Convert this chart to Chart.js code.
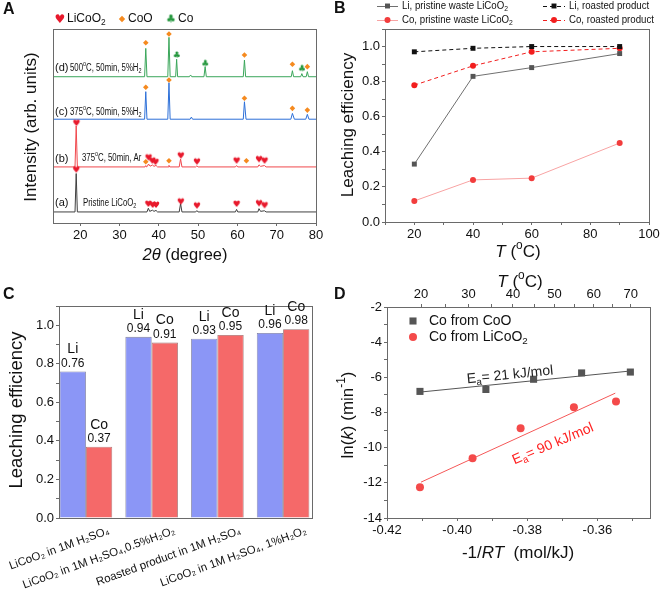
<!DOCTYPE html>
<html>
<head>
<meta charset="utf-8">
<title>LiCoO2 roasting and leaching</title>
<script src="https://cdn.jsdelivr.net/npm/chart.js@4.4.1/dist/chart.umd.min.js"></script>
<style>
  html, body { margin: 0; padding: 0; background: #fff; }
  body { position: relative; width: 661px; height: 594px; overflow: hidden; }
  canvas { position: absolute; }
</style>
</head>
<body>
<canvas id="chartA" width="330" height="280" style="left:0;top:0;width:330px;height:280px"></canvas>
<canvas id="chartB" width="331" height="270" style="left:330px;top:0;width:331px;height:270px"></canvas>
<canvas id="chartC" width="330" height="314" style="left:0;top:280px;width:330px;height:314px"></canvas>
<canvas id="chartD" width="331" height="324" style="left:330px;top:270px;width:331px;height:324px"></canvas>
<script>
// ---- A: XRD patterns, [2theta, intensity], patterns stacked on an arbitrary 0-100 scale
const xrdPristine = [[13,5.7],[18.7,5.7],[19.0,25.5],[19.3,5.7],[37.0,5.7],[37.35,7.6],[37.7,6.0],[38.4,6.6],[38.8,6.0],[39.3,6.5],[39.7,5.7],[45.2,5.7],[45.55,10.0],[45.9,5.7],[49.4,5.7],[49.7,6.4],[50.0,5.7],[59.5,5.7],[59.8,7.0],[60.1,5.7],[65.2,5.7],[65.5,7.4],[65.9,6.0],[66.9,6.3],[67.3,5.7],[80,5.7]];
const xrdAr375 = [[13,28.9],[18.7,28.9],[19.0,50.0],[19.3,28.9],[36.5,28.9],[36.7,29.6],[36.9,28.9],[37.1,29.2],[37.4,30.4],[37.8,29.3],[38.4,29.9],[38.8,29.2],[39.3,29.7],[39.7,28.9],[42.4,28.9],[42.6,29.7],[42.8,28.9],[45.2,28.9],[45.55,33.0],[45.9,28.9],[49.4,28.9],[49.7,29.5],[50.0,28.9],[59.5,28.9],[59.8,29.6],[60.1,28.9],[65.2,28.9],[65.5,30.0],[65.9,29.2],[66.9,29.6],[67.3,28.9],[80,28.9]];
const xrdH2375 = [[13,53.5],[36.4,53.5],[36.7,67.7],[37.0,53.5],[42.3,53.5],[42.6,72.3],[42.9,53.5],[48.0,53.5],[48.3,54.6],[48.6,53.5],[61.5,53.5],[61.8,62.5],[62.2,53.5],[73.6,53.5],[74.0,56.5],[74.5,53.5],[77.4,53.5],[77.8,56.0],[78.2,53.5],[80,53.5]];
const xrdH2500 = [[13,75.4],[36.4,75.4],[36.7,90.0],[37.0,75.4],[42.3,75.4],[42.6,95.7],[42.9,75.4],[44.3,75.4],[44.55,84.4],[44.8,75.4],[47.8,75.4],[48.1,76.3],[48.4,75.4],[51.5,75.4],[51.8,80.6],[52.1,75.4],[61.5,75.4],[61.8,84.0],[62.1,75.4],[73.7,75.4],[74.0,78.5],[74.3,75.4],[76.1,75.4],[76.4,77.0],[76.7,75.4],[77.5,75.4],[77.8,78.0],[78.1,75.4],[80,75.4]];
const peakLiCoO2 = [[19.0,27.5],[37.35,9.8],[38.45,9.3],[39.3,9.3],[45.6,11.0],[49.7,8.9],[59.8,9.8],[65.5,10.1],[66.9,9.1],
                    [19.05,51.5],[37.4,33.7],[38.35,32.1],[39.15,31.4],[45.6,34.7],[49.7,31.6],[59.8,32.1],[65.5,32.8],[66.9,32.1]];
const peakCoO = [[36.7,31.6],[42.6,32.1],[62.3,32.1],
                 [36.7,70.0],[42.6,73.7],[61.8,64.3],[74.0,59.1],[77.8,58.2],
                 [36.7,92.9],[42.6,97.4],[61.8,86.6],[74.0,81.8],[77.8,80.6]];
const peakCo = [[44.55,86.6],[51.8,82.3],[76.4,79.7]];

// ---- B: leaching efficiency vs temperature
const tempB = [20, 40, 60, 90];
const liPristine = [0.33, 0.83, 0.88, 0.96];
const coPristine = [0.12, 0.24, 0.25, 0.45];
const liRoasted = [0.97, 0.99, 1.00, 1.00];
const coRoasted = [0.78, 0.89, 0.97, 0.99];

// ---- C: leaching efficiency per condition
const leachConditions = ['LiCoO₂ in 1M H₂SO₄', 'LiCoO₂ in 1M H₂SO₄,0.5%H₂O₂', 'Roasted product in 1M H₂SO₄', 'LiCoO₂ in 1M H₂SO₄, 1%H₂O₂'];
const leachPos = [1, 2, 3, 4];
const leachSeries = ['Li', 'Co'];
const leachLi = [0.76, 0.94, 0.93, 0.96];
const leachCo = [0.37, 0.91, 0.95, 0.98];

// ---- D: Arrhenius plot
const invRT_CoO = [-0.4106, -0.3918, -0.3782, -0.3645, -0.3506];
const lnk_CoO = [-6.80, -6.69, -6.11, -5.75, -5.70];
const invRT_LiCoO2 = [-0.4106, -0.3956, -0.3819, -0.3667, -0.3547];
const lnk_LiCoO2 = [-12.25, -10.60, -8.90, -7.70, -7.37];
const fitCoO_x = [-0.4106, -0.3506];
const fitCoO_y = [-6.84, -5.64];
const fitLiCoO2_x = [-0.4103, -0.3549];
const fitLiCoO2_y = [-11.96, -6.90];
const topTempTicks = [20, 30, 40, 50, 60, 70];
const topTempMinor = [25, 35, 45, 55, 65];
const R_GAS = 0.008314; // kJ/(mol K)

const FONT = '"Liberation Sans", Arial, Helvetica, sans-serif';
const AX = '#6a6a6a';
const TXT = '#111';
Chart.defaults.font.family = FONT;
Chart.defaults.color = TXT;

const xy = a => a.map(p => ({ x: p[0], y: p[1] }));
const pts = (xs, ys) => xs.map((x, i) => ({ x, y: ys[i] }));

// tiny markup: _{sub} ^{sup} *italic*
function parse(s) {
  const out = [], re = /_\{([^}]*)\}|\^\{([^}]*)\}|\*([^*]*)\*|([^_^*]+)/g;
  let m;
  while ((m = re.exec(s))) {
    if (m[1] !== undefined) out.push([m[1], 'sub']);
    else if (m[2] !== undefined) out.push([m[2], 'sup']);
    else if (m[3] !== undefined) out.push([m[3], 'i']);
    else out.push([m[4], 'n']);
  }
  return out;
}

function rich(ctx, str, x, y, o = {}) {
  const size = o.size || 12, parts = parse(str);
  const f = st => (st === 'i' ? 'italic ' : '') + (o.bold ? 'bold ' : '') +
    ((st === 'sub' || st === 'sup') ? size * 0.7 : size) + 'px ' + FONT;
  ctx.save();
  ctx.translate(x, y);
  if (o.rot) ctx.rotate(o.rot);
  if (o.sx) ctx.scale(o.sx, 1);
  let w = 0;
  for (const p of parts) { ctx.font = f(p[1]); w += ctx.measureText(p[0]).width; }
  let cx = o.align === 'center' ? -w / 2 : o.align === 'right' ? -w : 0;
  ctx.fillStyle = o.color || TXT;
  ctx.textAlign = 'left';
  ctx.textBaseline = 'middle';
  for (const p of parts) {
    ctx.font = f(p[1]);
    const dy = p[1] === 'sub' ? size * 0.3 : p[1] === 'sup' ? -size * 0.35 : 0;
    ctx.fillText(p[0], cx, dy);
    cx += ctx.measureText(p[0]).width;
  }
  ctx.restore();
}

function glyph(ch, color, px) {
  const c = document.createElement('canvas');
  const n = Math.ceil(px * 1.1);
  c.width = n; c.height = n;
  const g = c.getContext('2d');
  g.fillStyle = color;
  g.font = px + 'px "DejaVu Sans"';
  g.textAlign = 'center';
  g.textBaseline = 'middle';
  g.fillText(ch, n / 2, n / 2 + px * 0.05);
  return c;
}

function marker(ctx, style, x, y, r, color) {
  ctx.save();
  ctx.fillStyle = color;
  ctx.beginPath();
  if (style === 'rect') {
    const s = r * Math.SQRT1_2;
    ctx.rect(x - s, y - s, 2 * s, 2 * s);
  } else if (style === 'rectRot') {
    ctx.moveTo(x, y - r); ctx.lineTo(x + r, y); ctx.lineTo(x, y + r); ctx.lineTo(x - r, y); ctx.closePath();
  } else {
    ctx.arc(x, y, r, 0, Math.PI * 2);
  }
  ctx.fill();
  ctx.restore();
}

function axis(o) {
  const s = {
    type: o.type || 'linear',
    offset: false,
    border: { color: AX, width: 1 },
    grid: { drawOnChartArea: false, color: AX, tickLength: 3, drawTicks: o.drawTicks !== false, offset: false },
    ticks: Object.assign({ color: TXT, font: { size: 13 }, padding: 2, autoSkip: false, maxRotation: 0, minRotation: 0 }, o.ticks || {}),
    afterFit: sc => {
      if (o.w !== undefined) sc.width = o.w;
      if (o.h !== undefined) sc.height = o.h;
      sc.paddingLeft = sc.paddingRight = sc.paddingTop = sc.paddingBottom = 0;
    }
  };
  ['position', 'min', 'max', 'afterBuildTicks'].forEach(k => { if (o[k] !== undefined) s[k] = o[k]; });
  return s;
}

const al = p => Math.round(p - 0.5) + 0.5;
const frame = {
  id: 'frame',
  afterDraw(c) {
    const a = c.chartArea, g = c.ctx;
    g.save();
    g.strokeStyle = AX;
    g.lineWidth = 1;
    g.strokeRect(al(a.left), al(a.top), al(a.right) - al(a.left), al(a.bottom) - al(a.top));
    g.restore();
  }
};
const extra = fn => ({ id: 'extra', afterDraw: c => fn(c, c.ctx) });

const baseOpts = (padding, scales) => ({
  responsive: false,
  animation: false,
  layout: { padding },
  plugins: { legend: { display: false }, tooltip: { enabled: false } },
  scales
});

// ---------- A ----------
const heartSmall = glyph('♥', '#e8192c', 9);
const heartBig = glyph('♥', '#e8192c', 12);
const clubSmall = glyph('♣', '#23963c', 9);
const clubBig = glyph('♣', '#23963c', 11);

function trace(arr, color) {
  return { data: xy(arr), borderColor: color, borderWidth: 1, pointRadius: 0, tension: 0, fill: false };
}
function symbols(arr, style, color, r) {
  return { data: xy(arr), showLine: false, pointStyle: style, pointRadius: r,
           pointBackgroundColor: color, pointBorderColor: color, pointBorderWidth: 0 };
}

new Chart(document.getElementById('chartA'), {
  type: 'line',
  data: { datasets: [
    symbols(peakLiCoO2, heartSmall, '#e8192c', 4),
    symbols(peakCoO, 'rectRot', '#f58a1f', 2.8),
    symbols(peakCo, clubSmall, '#23963c', 4),
    trace(xrdH2500, '#3aa65a'),
    trace(xrdH2375, '#2c6fd8'),
    trace(xrdAr375, '#f0474c'),
    trace(xrdPristine, '#404040')
  ]},
  options: baseOpts({ top: 29, right: 14, bottom: 0, left: 0 }, {
    x: axis({ min: 13.1, max: 80, h: 57, ticks: { stepSize: 10, includeBounds: false } }),
    y: axis({ min: 0, max: 100, w: 53, drawTicks: false, ticks: { display: false } })
  }),
  plugins: [frame, extra((c, g) => {
    rich(g, 'A', 3, 10, { size: 16, bold: true });
    g.drawImage(heartBig, 60 - heartBig.width / 2, 19 - heartBig.height / 2);
    rich(g, 'LiCoO_{2}', 67, 19, { size: 12 });
    marker(g, 'rectRot', 122, 19, 3.2, '#f58a1f');
    rich(g, 'CoO', 128, 19, { size: 12 });
    g.drawImage(clubBig, 171 - clubBig.width / 2, 19 - clubBig.height / 2);
    rich(g, 'Co', 178, 19, { size: 12 });
    rich(g, '(d)', 55, 68, { size: 11 });
    rich(g, '500^{o}C, 50min, 5%H_{2}', 70, 68, { size: 10, sx: 0.78 });
    rich(g, '(c)', 55, 112, { size: 11 });
    rich(g, '375^{o}C, 50min, 5%H_{2}', 70, 112, { size: 10, sx: 0.78 });
    rich(g, '(b)', 55, 159, { size: 11 });
    rich(g, '375^{o}C, 50min, Ar', 82, 158, { size: 10, sx: 0.78 });
    rich(g, '(a)', 55, 203, { size: 11 });
    rich(g, 'Pristine LiCoO_{2}', 83, 203, { size: 10, sx: 0.78 });
    rich(g, '*2θ* (degree)', 185, 255, { size: 16.5, align: 'center' });
    rich(g, 'Intensity (arb. units)', 31, 127, { size: 17, align: 'center', rot: -Math.PI / 2 });
  })]
});

// ---------- B ----------
const efficiencyTicks = { stepSize: 0.1, callback: v => Math.round(v * 10) % 2 === 0 ? v.toFixed(1) : '' };

new Chart(document.getElementById('chartB'), {
  type: 'line',
  data: { datasets: [
    { data: pts(tempB, liPristine), borderColor: '#707070', borderWidth: 1, pointStyle: 'rect', pointRadius: 3.5,
      pointBackgroundColor: '#555', pointBorderColor: '#555', pointBorderWidth: 0 },
    { data: pts(tempB, coPristine), borderColor: '#f8a3a3', borderWidth: 1, pointStyle: 'circle', pointRadius: 3,
      pointBackgroundColor: '#f23c3c', pointBorderColor: '#f23c3c', pointBorderWidth: 0 },
    { data: pts(tempB, liRoasted), borderColor: '#111', borderWidth: 1, borderDash: [4, 3], pointStyle: 'rect', pointRadius: 3.5,
      pointBackgroundColor: '#111', pointBorderColor: '#111', pointBorderWidth: 0 },
    { data: pts(tempB, coRoasted), borderColor: '#f21e1e', borderWidth: 1, borderDash: [4, 3], pointStyle: 'circle', pointRadius: 3,
      pointBackgroundColor: '#f21e1e', pointBorderColor: '#f21e1e', pointBorderWidth: 0 }
  ]},
  options: baseOpts({ top: 29, right: 12, bottom: 0, left: 0 }, {
    x: axis({ min: 10, max: 100, h: 48, ticks: { stepSize: 10, callback: v => v % 20 === 0 ? String(v) : '' } }),
    y: axis({ min: 0, max: 1.1, w: 55, ticks: efficiencyTicks })
  }),
  plugins: [frame, extra((c, g) => {
    rich(g, 'B', 4, 9, { size: 16, bold: true });
    const ds = c.data.datasets;
    const entry = (d, x1, x2, y, text) => {
      g.save();
      g.strokeStyle = d.borderColor;
      g.lineWidth = 1;
      g.setLineDash(d.borderDash || []);
      g.beginPath(); g.moveTo(x1, y + 0.5); g.lineTo(x2, y + 0.5); g.stroke();
      g.restore();
      marker(g, d.pointStyle, (x1 + x2) / 2, y, d.pointRadius, d.pointBackgroundColor);
      rich(g, text, x2 + 4, y, { size: 11, sx: 0.88 });
    };
    entry(ds[0], 47, 68, 6, 'Li, pristine waste LiCoO_{2}');
    entry(ds[2], 213, 235, 6, 'Li, roasted product');
    entry(ds[1], 47, 68, 20, 'Co, pristine waste LiCoO_{2}');
    entry(ds[3], 213, 235, 20, 'Co, roasted product');
    rich(g, '*T* (^{o}C)', 188, 252, { size: 17, align: 'center' });
    rich(g, 'Leaching efficiency', 18, 125, { size: 17, align: 'center', rot: -Math.PI / 2 });
  })]
});

// ---------- C ----------
// bars sit on a linear axis (positions 1..4) so the left group can touch the frame like the original
new Chart(document.getElementById('chartC'), {
  type: 'bar',
  data: {
    datasets: [
      { label: leachSeries[0], data: pts(leachPos, leachLi), backgroundColor: '#8b96f6', borderColor: '#7d7d9a', borderWidth: 0.8,
        barPercentage: 1, categoryPercentage: 0.8 },
      { label: leachSeries[1], data: pts(leachPos, leachCo), backgroundColor: '#f56969', borderColor: '#9a7070', borderWidth: 0.8,
        barPercentage: 1, categoryPercentage: 0.8 }
    ]
  },
  options: baseOpts({ top: 26, right: 18, bottom: 0, left: 0 }, {
    x: axis({ min: 0.59, max: 4.44, h: 76, drawTicks: false,
      afterBuildTicks: s => { s.ticks = leachPos.map(p => ({ value: p })); },
      ticks: { font: { size: 11.5 }, maxRotation: 20, minRotation: 20, labelOffset: 23, padding: 6,
               callback: (v, i) => leachConditions[i] } }),
    y: axis({ min: 0, max: 1.1, w: 59, ticks: efficiencyTicks })
  }),
  plugins: [frame, extra((c, g) => {
    rich(g, 'C', 3, 15, { size: 16, bold: true });
    c.data.datasets.forEach((d, i) => {
      c.getDatasetMeta(i).data.forEach((bar, j) => {
        rich(g, d.label, bar.x, bar.y - 22, { size: 14, align: 'center' });
        rich(g, d.data[j].y.toFixed(2), bar.x, bar.y - 8, { size: 12, align: 'center' });
      });
    });
    rich(g, 'Leaching efficiency', 17, 130, { size: 18.5, align: 'center', rot: -Math.PI / 2 });
  })]
});

// ---------- D ----------
const invT = t => -1 / (R_GAS * (t + 273.15));
new Chart(document.getElementById('chartD'), {
  type: 'line',
  data: { datasets: [
    { data: pts(invRT_CoO, lnk_CoO), showLine: false, pointStyle: 'rect', pointRadius: 5,
      pointBackgroundColor: '#555', pointBorderColor: '#555', pointBorderWidth: 0 },
    { data: pts(invRT_LiCoO2, lnk_LiCoO2), showLine: false, pointStyle: 'circle', pointRadius: 4,
      pointBackgroundColor: '#f44a4a', pointBorderColor: '#f44a4a', pointBorderWidth: 0 },
    { data: pts(fitCoO_x, fitCoO_y), borderColor: '#555', borderWidth: 1, pointRadius: 0 },
    { data: pts(fitLiCoO2_x, fitLiCoO2_y), borderColor: '#f55858', borderWidth: 1, pointRadius: 0 }
  ]},
  options: baseOpts({ top: 0, right: 11, bottom: 0, left: 0 }, {
    x: axis({ min: -0.42, max: -0.345, h: 76,
      ticks: { stepSize: 0.01, includeBounds: false, callback: v => Math.round(v * 100) % 2 === 0 ? v.toFixed(2) : '' } }),
    x2: axis({ position: 'top', min: -0.42, max: -0.345, h: 37,
      afterBuildTicks: s => {
        s.ticks = topTempTicks.map(t => ({ value: invT(t), label: String(t) }))
          .concat(topTempMinor.map(t => ({ value: invT(t), label: '' })))
          .sort((a, b) => a.value - b.value);
      },
      ticks: { callback: (v, i, ticks) => ticks[i].label } }),
    y: axis({ min: -14, max: -2, w: 57, ticks: { stepSize: 1, callback: v => v % 2 === 0 ? String(v) : '' } })
  }),
  plugins: [frame, extra((c, g) => {
    const ds = c.data.datasets;
    rich(g, 'D', 4, 25, { size: 16, bold: true });
    marker(g, ds[0].pointStyle, 83, 51, ds[0].pointRadius, ds[0].pointBackgroundColor);
    rich(g, 'Co from CoO', 99, 51, { size: 14 });
    marker(g, ds[1].pointStyle, 83, 67, ds[1].pointRadius, ds[1].pointBackgroundColor);
    rich(g, 'Co from LiCoO_{2}', 99, 67, { size: 14 });
    rich(g, '*T* (^{o}C)', 190, 12, { size: 17, align: 'center' });
    rich(g, '-1/*RT*  (mol/kJ)', 188, 283, { size: 17, align: 'center' });
    rich(g, 'ln(*k*) (min^{-1})', 18, 145, { size: 17, align: 'center', rot: -Math.PI / 2 });
    rich(g, 'E_{a}= 21 kJ/mol', 180, 105, { size: 14, align: 'center', rot: -0.1, color: '#222' });
    rich(g, 'E_{a}= 90 kJ/mol', 223, 174, { size: 14, align: 'center', rot: -0.4, color: '#f22' });
  })]
});
</script>
</body>
</html>
